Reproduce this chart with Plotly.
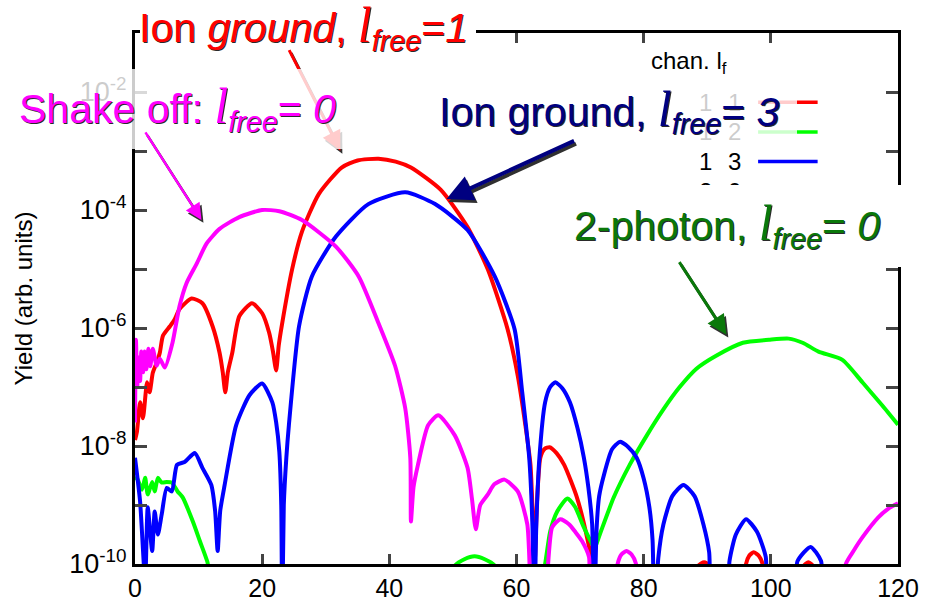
import numpy as np
import plotly.graph_objects as go

# ---- photo-electron yield per channel, log10 of the yield vs energy ----
# channel 1, l_f = 1 (ion ground state)
red_x = [0.0, 0.3, 0.8, 1.25, 1.9, 2.3, 2.8, 3.4, 3.9, 4.4, 5.5, 6.25, 7.0, 8.9, 10.6, 12.2, 13.3, 13.8,
         14.2, 14.6, 15.3, 16.4, 18.4, 20.0, 21.1, 21.7, 22.2, 22.6, 23.1, 24.7, 26.25, 28.9, 32.5, 35.0,
         38.3, 41.0, 43.4, 48.1, 52.3, 55.5, 58.6, 60.2, 61.4, 62.2, 62.7, 62.9, 63.2, 63.75, 64.4, 65.2,
         66.3, 67.5, 69.5, 71.1, 71.7, 72.0,
         87.5, 88.6, 89.5, 90.4, 91.5, 95.5, 96.1, 96.6, 97.3, 98.1, 98.7, 99.5, 104.5, 105.2, 105.9,
         106.6, 107.5, 120.0]
red_log = [-7.9, -7.76, -7.26, -7.53, -6.92, -7.09, -6.76, -6.59, -6.42, -6.13, -5.97, -5.85, -5.68,
           -5.50, -5.58, -5.97, -6.42, -6.75, -7.09, -6.75, -6.42, -5.80, -5.58, -5.75, -6.08, -6.40,
           -6.72, -6.30, -5.95, -5.01, -4.37, -3.73, -3.28, -3.16, -3.13, -3.18, -3.28, -3.66, -4.29,
           -5.01, -6.02, -6.81, -7.65, -8.32, -9.58, -9.9, -9.0, -8.20, -8.05, -8.02, -8.12, -8.32,
           -8.87, -9.55, -9.9, -11.0,
           -11.0, -10.03, -9.97, -10.03, -11.0, -11.0, -10.0, -9.86, -9.80, -9.86, -10.0, -11.0, -11.0,
           -10.03, -9.97, -10.03, -11.0, -11.0]

# channel 1, l_f = 2
green_x = [0.0, 0.3, 1.1, 1.6, 2.0, 2.7, 3.1, 3.6, 4.2, 5.0, 5.8, 6.7, 7.5, 9.1, 10.2, 11.4, 12.0,
           49.0, 50.3, 51.8, 53.4, 55.0, 56.6, 58.0, 63.5, 64.5, 65.3, 66.4, 68.0, 69.2, 70.6, 71.9,
           72.3, 73.1, 75.3, 77.8, 80.5, 83.1, 85.6, 88.3, 91.4, 95.6, 99.7, 102.8, 105.0, 107.5,
           111.25, 114.4, 117.5, 120.0]
green_log = [-8.57, -8.54, -8.74, -8.54, -8.82, -8.61, -8.77, -8.54, -8.62, -8.61, -8.62, -8.77, -8.87,
             -9.28, -9.61, -9.97, -10.3,
             -10.5, -10.03, -9.92, -9.87, -9.92, -10.03, -10.5, -10.5, -10.0, -9.45, -9.11, -8.89,
             -9.03, -9.38, -9.66, -9.73, -9.50, -8.87, -8.32, -7.82, -7.38, -7.01, -6.69, -6.47, -6.25,
             -6.20, -6.18, -6.25, -6.40, -6.54, -6.92, -7.31, -7.64]

# channel 1, l_f = 3 (ion ground state)
blue_x = [0.0, 0.8, 1.6, 2.0, 2.7, 3.1, 3.6, 4.2, 5.0, 5.8, 6.6, 7.8, 9.4, 10.6, 12.0, 12.6, 13.0,
          13.4, 14.1, 15.9, 18.0, 20.0, 21.6, 22.2, 22.7, 23.0, 23.15, 23.4, 23.8, 24.2, 25.8, 27.8,
          31.6, 36.7, 42.5, 47.2, 52.3, 56.6, 59.7, 60.9, 62.0, 62.5, 62.8, 63.1, 63.6, 64.5, 65.3,
          66.1, 67.2, 68.4, 69.6, 70.6, 71.3, 71.9, 72.2, 72.6, 73.0, 73.75, 75.0, 76.25, 77.6, 78.9,
          80.0, 80.9, 81.4, 81.7, 82.3, 83.1, 84.5, 86.25, 88.0, 89.4, 90.3, 90.9, 93.0, 93.5, 94.5,
          96.1, 97.8, 99.2, 99.7, 103.3, 104.2, 106.25, 107.9, 108.6, 120.0]
blue_log = [-8.20, -8.94, -10.3, -9.04, -9.78, -9.11, -9.50, -9.16, -8.71, -8.77, -8.32, -8.27, -8.12,
            -8.37, -8.66, -9.1, -9.78, -9.1, -8.66, -7.65, -7.14, -6.94, -7.26, -7.6, -8.10, -9.0,
            -11.0, -9.0, -8.2, -7.65, -5.97, -5.13, -4.45, -3.90, -3.70, -3.90, -4.34, -5.13, -6.02,
            -7.09, -8.20, -9.33, -11.0, -9.4, -8.20, -7.26, -7.0, -6.92, -7.02, -7.26, -7.7, -8.20,
            -8.7, -9.33, -11.0, -9.4, -8.85, -8.49, -8.06, -7.93, -8.02, -8.20, -8.55, -9.04, -9.6,
            -11.0, -9.9, -9.33, -8.85, -8.66, -8.85, -9.33, -9.8, -11.0, -11.0, -9.95, -9.5, -9.24,
            -9.45, -9.88, -11.0, -11.0, -9.95, -9.71, -9.95, -11.0, -11.0]

# channel 2, l_f = 0 (shake off)
mag_x = [0.0, 0.15, 0.35, 0.55, 0.8, 1.0, 1.3, 1.5, 1.8, 2.1, 2.4, 2.8, 3.4, 3.9, 4.7, 5.9, 7.0, 8.1,
         9.7, 11.25, 13.3, 16.4, 20.0, 22.7, 26.25, 31.6, 35.2, 38.3, 40.9, 42.5, 43.3, 43.4, 43.8,
         44.5, 46.1, 47.7, 50.3, 52.3, 53.0, 53.6, 54.3, 55.5, 56.5, 58.1, 60.2, 61.7, 62.8, 64.0,
         65.6, 66.9, 68.3, 69.2, 70.3, 71.4, 71.8, 75.0, 75.9, 76.5, 77.3, 78.1, 78.8, 79.6, 111.0,
         111.8, 113.0, 114.4, 116.9, 118.5, 120.0]
mag_log = [-7.6, -6.2, -7.0, -6.5, -6.9, -6.4, -6.75, -6.4, -6.7, -6.35, -6.65, -6.35, -6.64, -6.52,
           -6.67, -6.25, -5.63, -5.24, -4.91, -4.57, -4.32, -4.12, -4.00, -4.02, -4.17, -4.62, -5.13,
           -5.92, -6.64, -7.36, -8.20, -9.28, -8.7, -8.32, -7.65, -7.48, -7.82, -8.37, -8.9, -9.41,
           -9.0, -8.82, -8.65, -8.57, -8.77, -9.33, -11.0, -11.0, -9.38, -9.24, -9.33, -9.45, -9.61,
           -9.88, -11.0, -11.0, -10.0, -9.84, -9.78, -9.84, -10.0, -11.0, -11.0, -10.0, -9.78, -9.55,
           -9.21, -9.06, -8.97]

series = [
    (red_x, red_log, "#ff0000"),
    (green_x, green_log, "#00ff00"),
    (blue_x, blue_log, "#0000ff"),
    (mag_x, mag_log, "#ff00ff"),
]

legend_rows = [("1", "1", "#ff0000"), ("1", "2", "#00ff00"), ("1", "3", "#0000ff"), ("2", "0", "#ff00ff")]

x_ticks = [0, 20, 40, 60, 80, 100, 120]
y_decades = list(range(-10, 0))

W, H = 931, 614
ML, MR, MT, MB = 135, 27, 33, 44
PW, PH = W - ML - MR, H - MT - MB


def px(xp):
    return (xp - ML) / PW


def py(yp):
    return (H - MB - yp) / PH


fig = go.Figure()
for xs, ls, col in series:
    fig.add_trace(go.Scatter(x=xs, y=10.0 ** np.array(ls), mode="lines",
                             line=dict(color=col, width=4, shape="spline", smoothing=0.6),
                             showlegend=False, hoverinfo="skip"))

BASE = "Liberation Sans, Arial, sans-serif"
ann = []
shapes = []

# legend block: header, channel / l_f columns and line keys
ann.append(dict(x=px(653), y=py(63), xref="paper", yref="paper", xanchor="left", yanchor="middle",
                text="chan. l<sub>f</sub>", showarrow=False, font=dict(family=BASE, size=24, color="black")))
for i, (ch, lf, col) in enumerate(legend_rows):
    yy = 103 + 30 * i
    for cx, t in ((710, ch), (739, lf)):
        ann.append(dict(x=px(cx), y=py(yy), xref="paper", yref="paper", xanchor="center", yanchor="middle",
                        text=t, showarrow=False, font=dict(family=BASE, size=24, color="black")))
    shapes.append(dict(type="line", xref="paper", yref="paper", x0=px(763), x1=px(823), y0=py(yy), y1=py(yy),
                       line=dict(color=col, width=3.5), layer="above"))

ELL = "<span style='font-family:Liberation Serif;font-size:50px'><i>l</i></span><sub><i>free</i></sub>"


def label(text, color, box, bg, size=41):
    x0, y0, x1, y1 = box
    common = dict(x=px(x0), y=py(y0), xref="paper", yref="paper", xanchor="left", yanchor="top",
                  width=x1 - x0, height=y1 - y0, align="left", valign="middle", borderpad=0,
                  showarrow=False, text=text)
    ann.append(dict(common, bgcolor=bg, xshift=2, yshift=-2, borderwidth=0,
                    font=dict(family=BASE, size=size, color="#2a2a2a")))
    ann.append(dict(common, font=dict(family=BASE, size=size, color=color)))


def arrow(head, tail, color, width):
    hx, hy = head
    tx, ty = tail
    for col, dx, dy in (("#303030", 2, 3), (color, 0, 0)):
        ann.append(dict(x=px(hx + dx), y=py(hy + dy), xref="paper", yref="paper", text="", showarrow=True,
                        ax=tx - hx, ay=ty - hy, arrowhead=2, arrowsize=1.3, arrowwidth=width,
                        arrowcolor=col, standoff=0))


label("Ion <i>ground</i>, " + ELL + "=<i>1</i>", "#ff0000", (138, 2, 474, 50), "white")
arrow((342, 152), (290, 50), "#ff0000", 3)

label("Shake off: " + ELL + "= <i>0</i>", "#ff00ff", (17, 67, 345, 147), "rgba(255,255,255,0.8)")
arrow((202, 222), (145, 133), "#ff00ff", 2.5)

label("Ion ground, " + ELL + "= <i>3</i>", "#000080", (440, 72, 797, 147), "rgba(255,255,255,0.8)")
arrow((449, 201), (578, 142), "#000080", 4)

label("2-photon, " + ELL + "= <i>0</i>", "#0a780a", (576, 185, 925, 267), "white")
arrow((731, 338), (683, 264), "#0a780a", 3)

y_text = ["10<sup>%d</sup>" % d if d % 2 == 0 else "" for d in y_decades]

fig.update_layout(
    width=W, height=H, margin=dict(l=ML, r=MR, t=MT, b=MB),
    paper_bgcolor="white", plot_bgcolor="white",
    font=dict(family=BASE, size=25, color="black"),
    xaxis=dict(range=[0, 120], tickvals=x_ticks, ticks="inside", ticklen=10, tickwidth=3,
               showline=True, linewidth=3, linecolor="black", mirror="ticks", showgrid=False,
               zeroline=False, tickfont=dict(size=25)),
    yaxis=dict(type="log", range=[-10, -1], tickvals=[10.0 ** d for d in y_decades], ticktext=y_text,
               ticks="inside", ticklen=12, tickwidth=3, showline=True, linewidth=3, linecolor="black",
               mirror="ticks", showgrid=False, zeroline=False, tickfont=dict(size=27),
               title=dict(text="Yield (arb. units)", font=dict(size=24), standoff=30)),
    annotations=ann, shapes=shapes,
)

fig.write_html("out.html")
